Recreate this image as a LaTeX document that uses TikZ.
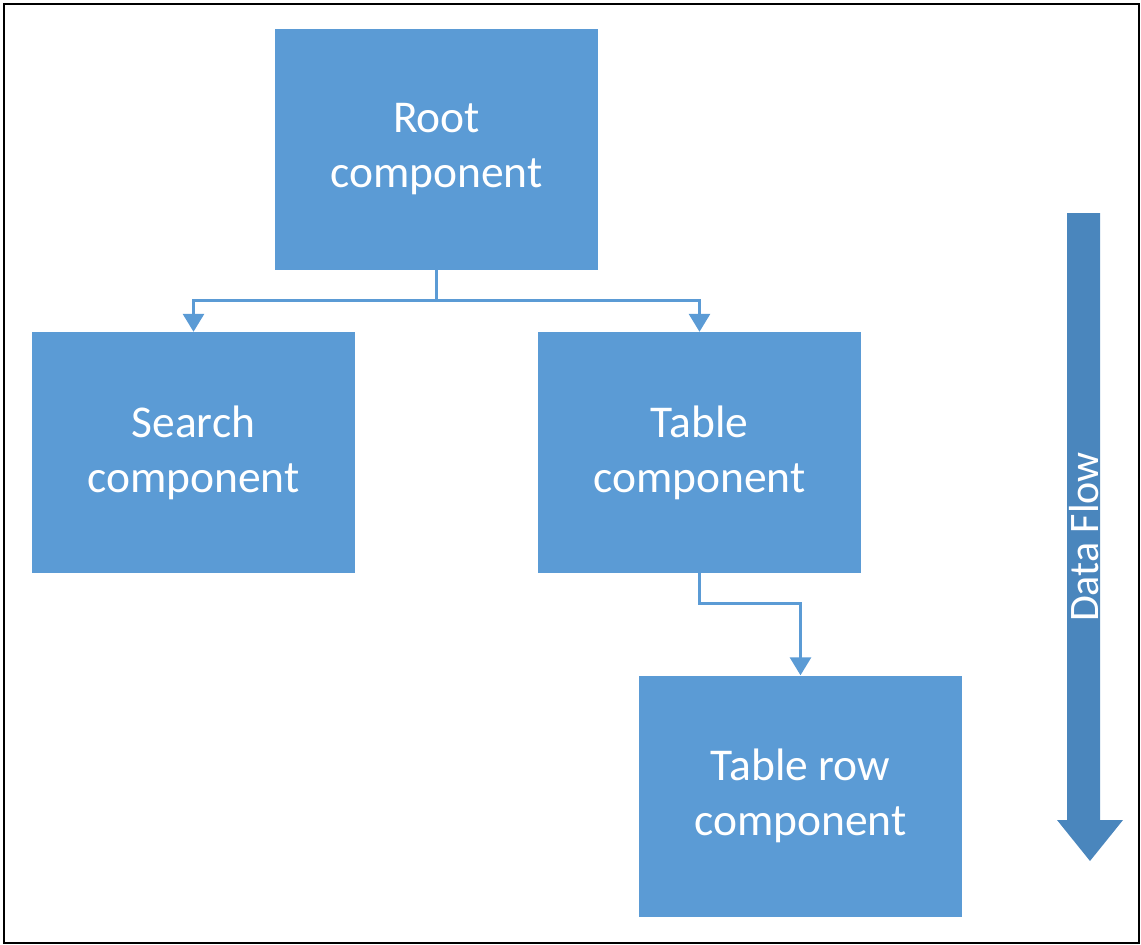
\documentclass[tikz,border=0pt]{standalone}
\usepackage{fontspec}
\setmainfont{Carlito}
\usetikzlibrary{arrows.meta,shapes.arrows}
\definecolor{boxblue}{HTML}{5B9BD5}
\definecolor{flowblue}{HTML}{4A86BD}
\tikzset{
  comp/.style={fill=boxblue, draw=none, minimum width=323pt, minimum height=241pt,
    text=white, align=center, font=\fontsize{45.5pt}{55pt}\selectfont, inner sep=0pt},
  link/.style={draw=boxblue, line width=3pt, -{Triangle[length=18pt,width=21pt]}},
}
\begin{document}
\begin{tikzpicture}[x=1pt,y=-1pt]
\useasboundingbox (0,0) rectangle (1141,945);
\draw[line width=2.5pt] (4,4) rectangle (1139,943);
\node[comp] (root) at (436.5,149) {Root\\component};
\node[comp] (search) at (193.5,452.5) {Search\\component};
\node[comp] (table) at (699.5,452.5) {Table\\component};
\node[comp] (row) at (800.5,796) {Table row\\component};
\coordinate (split) at (436.5,300);
\draw[draw=boxblue, line width=3pt] (root.south) -- (split);
\draw[link] (split) -| (search.north);
\draw[link] (split) -| (table.north);
\draw[link] (table.south) |- (800.5,603) -- (row.north);
\coordinate (ftop) at (1083.5,213);
\coordinate (fbot) at (1090,861);
\fill[flowblue] (1067,213) -- (1100,213) -- (1100,820) -- (1123,820) -- (1090,861) -- (1057,820) -- (1067,820) -- cycle;
\node[text=white, rotate=90, font=\fontsize{42pt}{50pt}\selectfont, inner sep=0pt] (flow) at (1084,537) {Data Flow};
\end{tikzpicture}
\end{document}
